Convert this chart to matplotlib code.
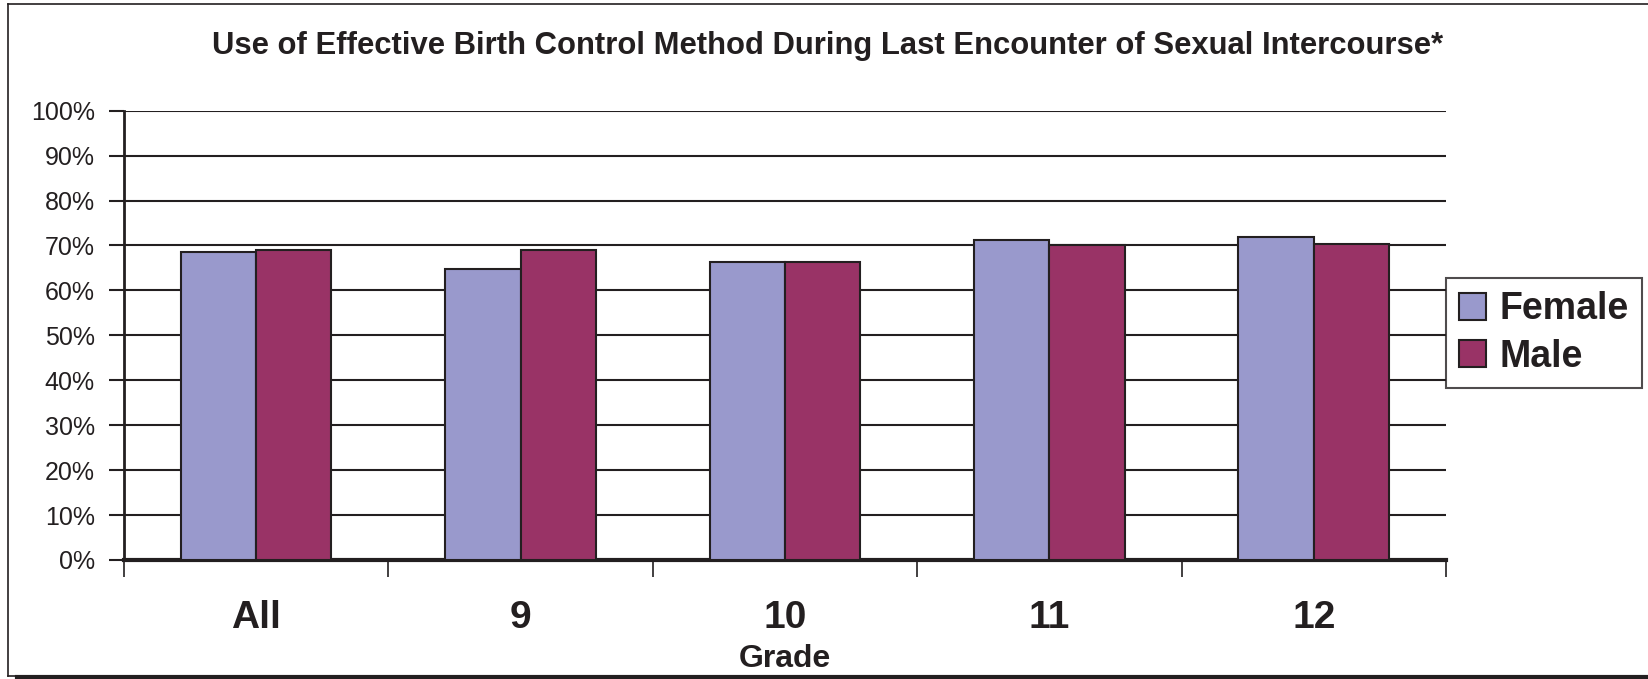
import numpy as np
import matplotlib.pyplot as plt
from matplotlib.lines import Line2D
from matplotlib.ticker import PercentFormatter

plt.rcParams['font.family'] = ['Liberation Sans', 'DejaVu Sans']

grades = ['All', '9', '10', '11', '12']
female = [68.6, 64.7, 66.4, 71.3, 71.8]
male = [69.1, 69.1, 66.4, 70.0, 70.4]

female_color = '#9999cc'
male_color = '#993366'
edge = '#231f20'

fig = plt.figure(figsize=(16.48, 6.79), dpi=100)
ax = fig.add_axes([0.0752, 0.1753, 0.8022, 0.6617])

x = np.arange(len(grades))
w = 0.285
ax.bar(x - w / 2, female, w, color=female_color, edgecolor=edge, linewidth=1.5,
       label='Female', zorder=3)
ax.bar(x + w / 2, male, w, color=male_color, edgecolor=edge, linewidth=1.5,
       label='Male', zorder=3)

ax.set_xlim(-0.5, len(grades) - 0.5)
ax.set_ylim(0, 100)
ax.set_yticks(np.arange(0, 101, 10))
ax.yaxis.set_major_formatter(PercentFormatter(decimals=0))
ax.grid(axis='y', color=edge, linewidth=1.5, zorder=0)

# category labels at centres, tick marks at boundaries
ax.set_xticks(x)
ax.set_xticklabels(grades, fontsize=28, fontweight='bold', color=edge)
ax.tick_params(axis='x', which='major', length=0, pad=28.5)
ax.set_xticks(np.arange(-0.5, len(grades), 1), minor=True)
ax.tick_params(axis='x', which='minor', length=12, width=1.2, color=edge, direction='out')
ax.tick_params(axis='y', length=11, width=1.5, color=edge, labelsize=18, pad=10,
               labelcolor=edge)

for s in ['top', 'right']:
    ax.spines[s].set_visible(False)
ax.spines['left'].set_linewidth(2)
ax.spines['left'].set_color(edge)
ax.spines['bottom'].set_linewidth(3)
ax.spines['bottom'].set_color(edge)

ax.set_xlabel('Grade', fontsize=23, fontweight='bold', color=edge, labelpad=6)

fig.text(0.502, 0.932, 'Use of Effective Birth Control Method During Last Encounter of Sexual Intercourse*',
         ha='center', va='center', fontsize=22.3, fontweight='bold', color=edge)

leg = ax.legend(loc='center left', bbox_to_anchor=(1.0, 0.505), frameon=True,
                fancybox=False, prop={'weight': 'bold', 'size': 27},
                handlelength=0.72, handleheight=0.72, handletextpad=0.35,
                borderpad=0.35, labelspacing=0.3, borderaxespad=0)
leg.get_frame().set_edgecolor(edge)
leg.get_frame().set_linewidth(1.5)
for t in leg.get_texts():
    t.set_color(edge)

# figure frame
fig.add_artist(Line2D([8 / 1648, 8 / 1648], [1 - 676 / 679, 1 - 4 / 679],
                      color=edge, linewidth=1.2, transform=fig.transFigure))
fig.add_artist(Line2D([8 / 1648, 1], [1 - 4 / 679, 1 - 4 / 679],
                      color=edge, linewidth=1.2, transform=fig.transFigure))
fig.add_artist(Line2D([8 / 1648, 17 / 1648], [1 - 676 / 679, 1 - 676 / 679],
                      color=edge, linewidth=1.2, transform=fig.transFigure))
fig.add_artist(Line2D([17 / 1648, 1], [1 - 677 / 679, 1 - 677 / 679],
                      color=edge, linewidth=3, transform=fig.transFigure))

plt.savefig('out.png', dpi=100)
